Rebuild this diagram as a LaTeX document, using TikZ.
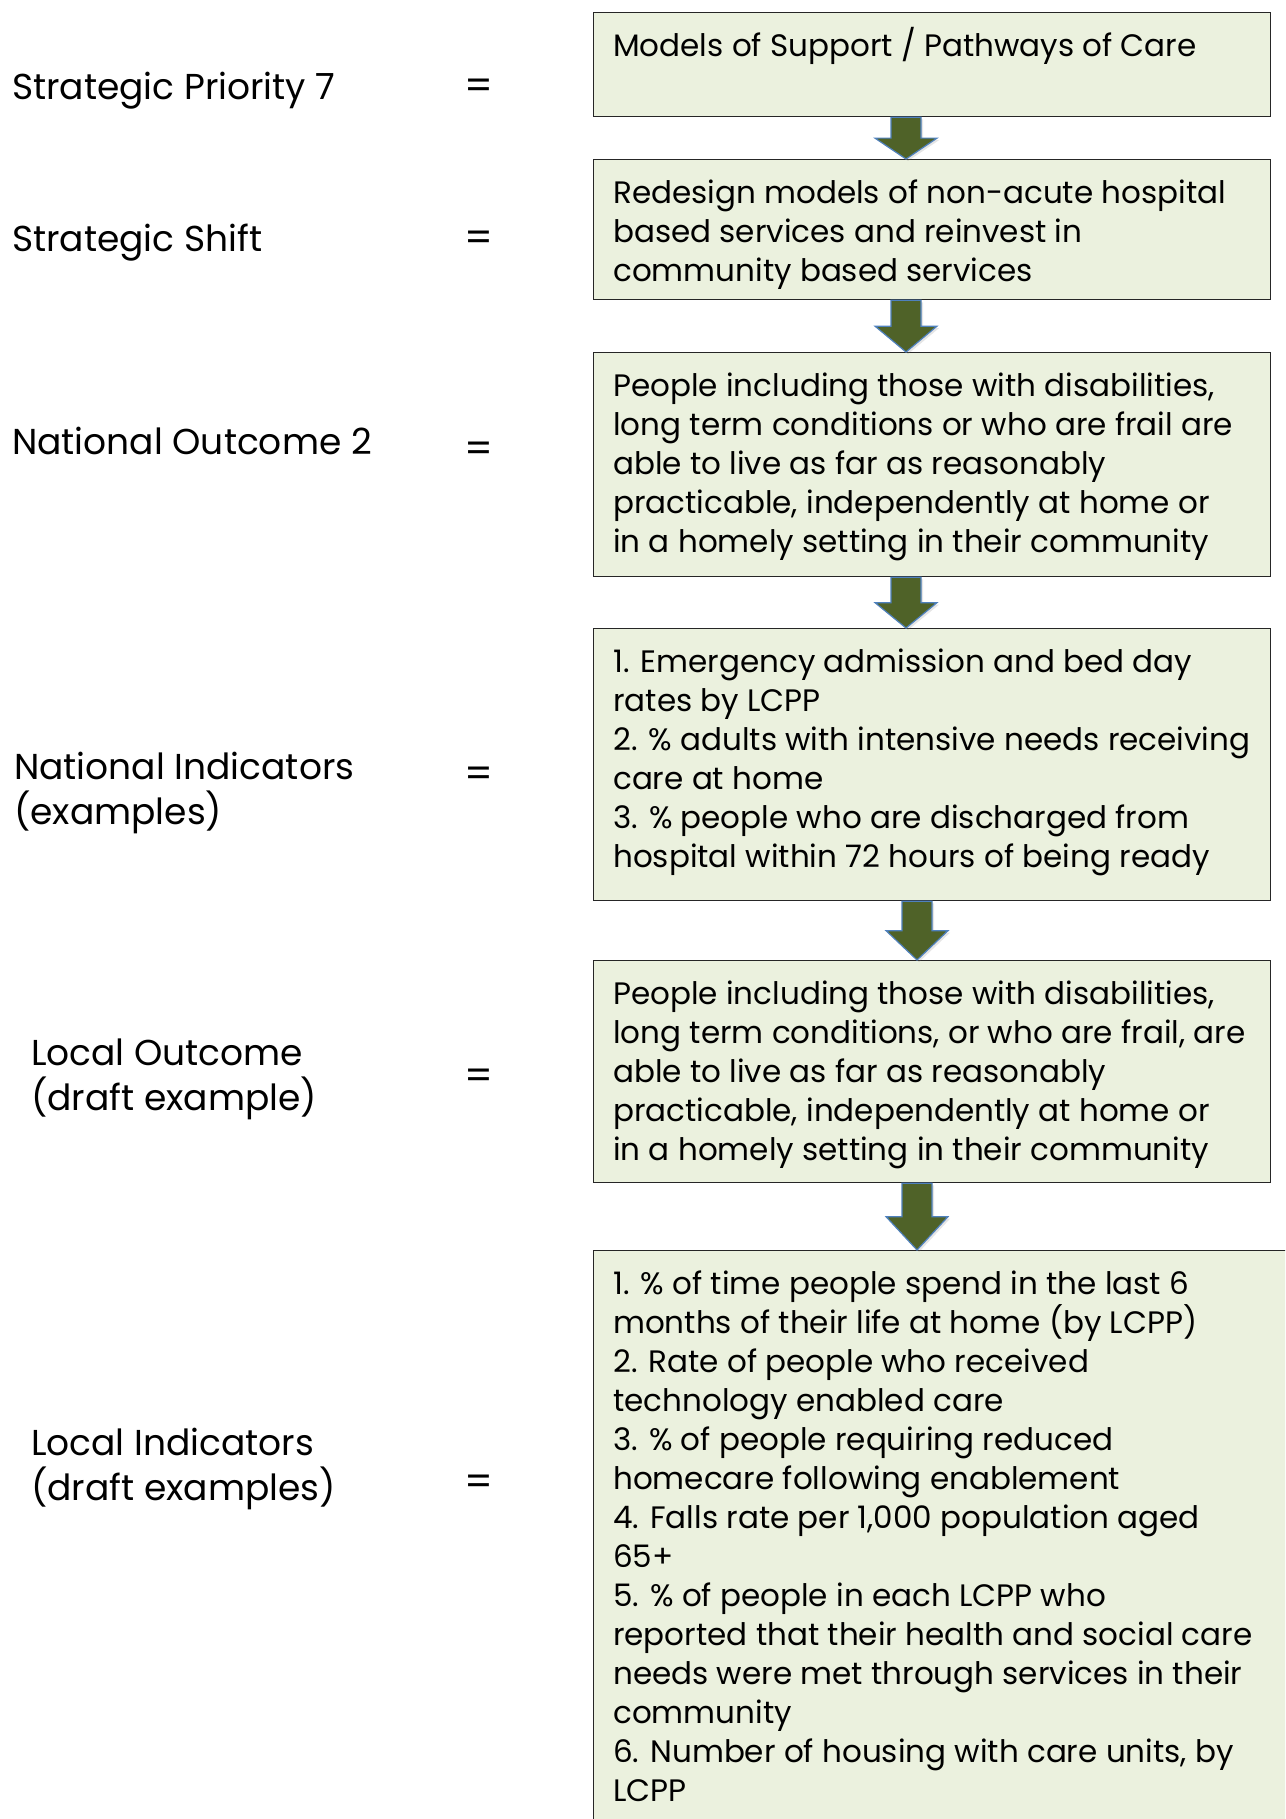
\documentclass[tikz,border=0pt]{standalone}
\usepackage{fontspec}
\setmainfont{Poppins}
\usetikzlibrary{calc,shadows}
\definecolor{boxfill}{HTML}{EBF1DE}
\definecolor{boxline}{HTML}{262626}
\definecolor{arrowfill}{HTML}{4F6228}
\definecolor{arrowline}{HTML}{4F81BD}
\newcommand\boxfont{\fontsize{31}{39}\selectfont}
\newcommand\labfont{\fontsize{36}{45.5}\selectfont}
\newcommand\flowarrow[3]{%
  \draw[flowarrowsty] let \p1=(#1.south -| #3), \p2=(#2.north -| #3), \p3=($(\p1)!0.5!(\p2)$) in
    ($(\p1)+(-15,0)$) -- ($(\p3)+(-15,0)$) -- ($(\p3)+(-31,0)$) -- (\p2)
    -- ($(\p3)+(31,0)$) -- ($(\p3)+(15,0)$) -- ($(\p1)+(15,0)$) -- cycle;}
\begin{document}
\begin{tikzpicture}[x=1pt,y=-1pt,
  flowbox/.style={draw=boxline, line width=1.3pt, fill=boxfill, rectangle, anchor=north west, inner sep=0pt, minimum width=677pt},
  boxtext/.style={anchor=north west, align=left, inner sep=0pt, font=\boxfont, text=black},
  labtext/.style={anchor=north west, align=left, inner sep=0pt, font=\labfont, text=black},
  eqsign/.style={anchor=center, inner sep=0pt, font=\fontsize{40}{45}\selectfont, text=black},
  flowarrowsty/.style={fill=arrowfill, draw=arrowline, line width=1.2pt, line join=miter,
    drop shadow={shadow xshift=2pt, shadow yshift=-2pt, opacity=0.2}}]
\useasboundingbox (0,0) rectangle (1285,1819);
\clip (0,0) rectangle (1285,1819);
\fill[white] (0,0) rectangle (1285,1819);
% boxes
\node[flowbox, minimum height=104pt] (b1) at (593,12) {};
\node[flowbox, minimum height=140pt] (b2) at (593,159) {};
\node[flowbox, minimum height=224pt] (b3) at (593,352) {};
\node[flowbox, minimum height=272pt] (b4) at (593,628) {};
\node[flowbox, minimum height=222pt] (b5) at (593,960) {};
\node[flowbox, minimum height=620pt, minimum width=720pt] (b6) at (593,1250) {};
% arrow axes
\coordinate (ax1) at (906,0);
\coordinate (ax2) at (917,0);
\flowarrow{b1}{b2}{ax1}
\flowarrow{b2}{b3}{ax1}
\flowarrow{b3}{b4}{ax1}
\flowarrow{b4}{b5}{ax2}
\flowarrow{b5}{b6}{ax2}
% box texts
\node[boxtext] (t1) at (613,26) {\rule{0pt}{30pt}Models of Support / Pathways of Care};
\node[boxtext] (t2) at (613,173) {\rule{0pt}{30pt}Redesign models of non-acute hospital\\based services and reinvest in\\community based services};
\node[boxtext] (t3) at (613,366) {\rule{0pt}{30pt}People including those with disabilities,\\long term conditions or who are frail are\\able to live as far as reasonably\\practicable, independently at home or\\in a homely setting in their community};
\node[boxtext] (t4) at (613,642) {\rule{0pt}{30pt}1. Emergency admission and bed day\\rates by LCPP\\2. \% adults with intensive needs receiving\\care at home\\3. \% people who are discharged from\\hospital within 72 hours of being ready};
\node[boxtext] (t5) at (613,974) {\rule{0pt}{30pt}People including those with disabilities,\\long term conditions, or who are frail, are\\able to live as far as reasonably\\practicable, independently at home or\\in a homely setting in their community};
\node[boxtext] (t6) at (613,1264) {\rule{0pt}{30pt}1. \% of time people spend in the last 6\\months of their life at home (by LCPP)\\2. Rate of people who received\\technology enabled care\\3. \% of people requiring reduced\\homecare following enablement\\4. Falls rate per 1,000 population aged\\65+\\5. \% of people in each LCPP who\\reported that their health and social care\\needs were met through services in their\\community\\6. Number of housing with care units, by\\LCPP};
% left labels
\node[labtext] (l1) at (12,67) {\rule{0pt}{32pt}Strategic Priority 7};
\node[labtext] (l2) at (12,219) {\rule{0pt}{32pt}Strategic Shift};
\node[labtext] (l3) at (12,422) {\rule{0pt}{32pt}National Outcome 2};
\node[labtext] (l4) at (14,747) {\rule{0pt}{32pt}National Indicators\\(examples)};
\node[labtext] (l5) at (31,1033) {\rule{0pt}{32pt}Local Outcome\\(draft example)};
\node[labtext] (l6) at (31,1423) {\rule{0pt}{32pt}Local Indicators\\(draft examples)};
\node[eqsign] (e1) at (479,89) {=};
\node[eqsign] (e2) at (479,241) {=};
\node[eqsign] (e3) at (479,452) {=};
\node[eqsign] (e4) at (479,777) {=};
\node[eqsign] (e5) at (479,1079) {=};
\node[eqsign] (e6) at (479,1485) {=};
\end{tikzpicture}
\end{document}
